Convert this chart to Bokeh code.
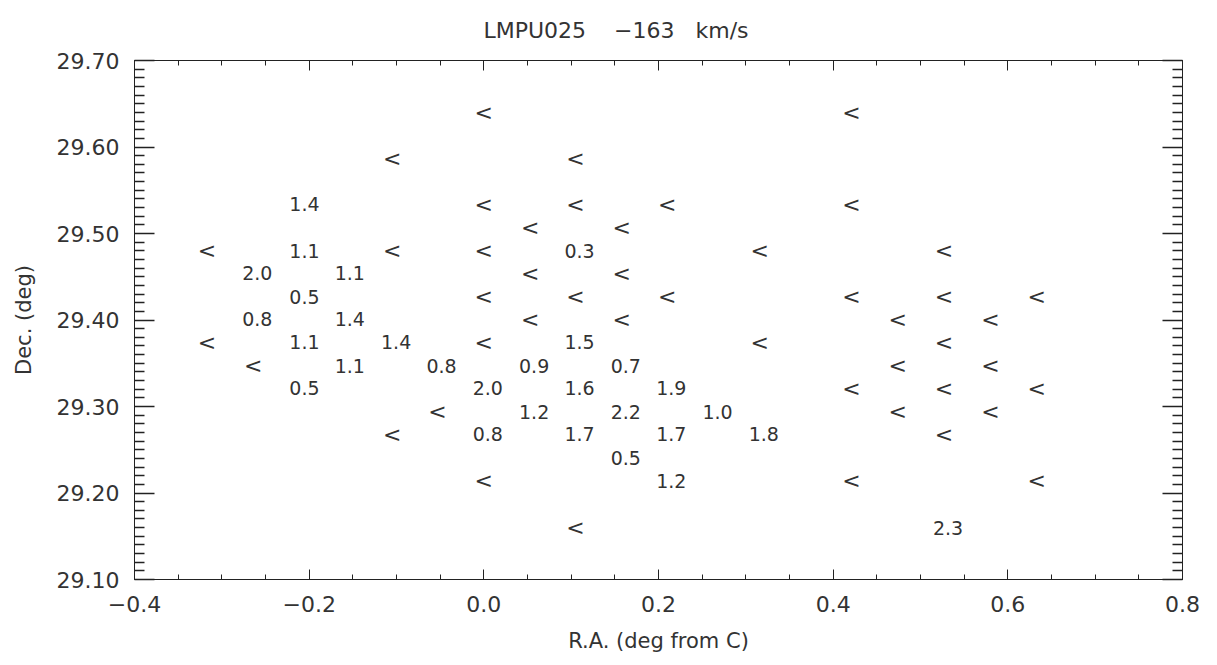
from bokeh.plotting import figure
from bokeh.models import (Range1d, FixedTicker, LinearAxis,
                          CustomJSTickFormatter, ColumnDataSource, Title)
from bokeh.core.properties import value
from bokeh.embed import file_html
from bokeh.resources import INLINE

# ---------------- data ----------------
title_text = "LMPU025\u00a0\u00a0\u00a0\u00a0\u2212163\u00a0\u00a0\u00a0km/s"
x_label = "R.A. (deg from C)"
y_label = "Dec. (deg)"
x_major = [-0.4, -0.2, 0.0, 0.2, 0.4, 0.6, 0.8]
y_major = [29.10, 29.20, 29.30, 29.40, 29.50, 29.60, 29.70]

# upper limits ("<")
lim_ra = [0.000, 0.421,
          -0.105, 0.105,
          0.000, 0.105, 0.210, 0.421,
          0.053, 0.158,
          -0.317, -0.105, 0.000, 0.316, 0.527,
          0.053, 0.158,
          0.000, 0.105, 0.210, 0.421, 0.527, 0.633,
          0.053, 0.158, 0.474, 0.580,
          -0.317, 0.000, 0.316, 0.527,
          -0.264, 0.474, 0.580,
          0.421, 0.527, 0.633,
          -0.053, 0.474, 0.580,
          -0.105, 0.527,
          0.000, 0.421, 0.633,
          0.105]
lim_dec = [29.640, 29.640,
           29.587, 29.587,
           29.534, 29.534, 29.534, 29.534,
           29.507, 29.507,
           29.480, 29.480, 29.480, 29.480, 29.480,
           29.454, 29.454,
           29.427, 29.427, 29.427, 29.427, 29.427, 29.427,
           29.401, 29.401, 29.401, 29.401,
           29.374, 29.374, 29.374, 29.374,
           29.347, 29.347, 29.347,
           29.321, 29.321, 29.321,
           29.294, 29.294, 29.294,
           29.268, 29.268,
           29.214, 29.214, 29.214,
           29.160]

# measured values
val_ra = [-0.210,
          -0.210, 0.105,
          -0.264, -0.158,
          -0.210,
          -0.264, -0.158,
          -0.210, -0.105, 0.105,
          -0.158, -0.053, 0.053, 0.158,
          -0.210, 0.000, 0.105, 0.210,
          0.053, 0.158, 0.263,
          0.000, 0.105, 0.210, 0.316,
          0.158,
          0.210,
          0.527]
val_dec = [29.534,
           29.480, 29.480,
           29.454, 29.454,
           29.427,
           29.401, 29.401,
           29.374, 29.374, 29.374,
           29.347, 29.347, 29.347, 29.347,
           29.321, 29.321, 29.321, 29.321,
           29.294, 29.294, 29.294,
           29.268, 29.268, 29.268, 29.268,
           29.241,
           29.214,
           29.160]
val_text = ["1.4",
            "1.1", "0.3",
            "2.0", "1.1",
            "0.5",
            "0.8", "1.4",
            "1.1", "1.4", "1.5",
            "1.1", "0.8", "0.9", "0.7",
            "0.5", "2.0", "1.6", "1.9",
            "1.2", "2.2", "1.0",
            "0.8", "1.7", "1.7", "1.8",
            "0.5",
            "1.2",
            "2.3"]

# ---------------- plot ----------------
FONT = "DejaVu Sans"
INK = "#222222"
TXT = "#333333"

p = figure(width=1217, height=665, output_backend="svg", toolbar_location=None,
           x_range=Range1d(-0.4, 0.8), y_range=Range1d(29.10, 29.70),
           min_border_left=134, min_border_right=35, min_border_top=60,
           min_border_bottom=86, background_fill_color="white",
           border_fill_color="white", outline_line_color=INK)
p.grid.visible = False

x_minor = [round(-0.4 + 0.05 * i, 3) for i in range(25)]
y_minor = [round(29.10 + 0.01 * i, 3) for i in range(1, 60) if i % 10 != 0]
xt = FixedTicker(ticks=x_major, minor_ticks=x_minor)
yt = FixedTicker(ticks=y_major, minor_ticks=y_minor)

xfmt = CustomJSTickFormatter(code="return (tick < -1e-9 ? '\\u2212' : '') + Math.abs(tick).toFixed(1);")
yfmt = CustomJSTickFormatter(code="return tick.toFixed(2);")
blank = CustomJSTickFormatter(code="return '';")


def style(ax, maj, mnr, lw):
    ax.axis_line_color = INK
    ax.major_tick_line_color = INK
    ax.minor_tick_line_color = INK
    ax.major_tick_line_width = lw
    ax.minor_tick_line_width = lw
    ax.major_tick_in = maj
    ax.major_tick_out = 0
    ax.minor_tick_in = mnr
    ax.minor_tick_out = 0
    ax.major_label_text_font = FONT
    ax.major_label_text_font_size = "22px"
    ax.major_label_text_color = TXT
    ax.axis_label_text_font = FONT
    ax.axis_label_text_font_size = "21px"
    ax.axis_label_text_font_style = "normal"
    ax.axis_label_text_color = TXT


xa = p.xaxis[0]
xa.ticker = xt
xa.formatter = xfmt
xa.axis_label = x_label
style(xa, 10, 5, 1)
xa.major_label_standoff = 16
xa.axis_label_standoff = 14

ya = p.yaxis[0]
ya.ticker = yt
ya.formatter = yfmt
ya.axis_label = y_label
style(ya, 20, 10, 1.6)
ya.major_label_standoff = 15
ya.axis_label_standoff = 18

top = LinearAxis(ticker=xt, formatter=blank)
style(top, 10, 5, 1)
top.major_label_standoff = 0
top.major_label_text_font_size = "0px"
p.add_layout(top, "above")

right = LinearAxis(ticker=yt, formatter=blank)
style(right, 20, 10, 1.6)
right.major_label_standoff = 0
right.major_label_text_font_size = "0px"
p.add_layout(right, "right")

t = Title(text=title_text, align="left", offset=349, text_font=FONT,
          text_font_size="22px", text_font_style="normal", text_color=TXT,
          standoff=31, vertical_align="top")
p.add_layout(t, "above")

lim_src = ColumnDataSource(dict(x=lim_ra, y=lim_dec, t=["<"] * len(lim_ra)))
val_src = ColumnDataSource(dict(x=val_ra, y=val_dec, t=val_text))

p.text(x="x", y="y", text="t", source=lim_src, text_font=value(FONT),
       text_font_size="22px", text_align="center", text_baseline="middle",
       text_color=TXT)
p.text(x="x", y="y", text="t", source=val_src, text_font=value(FONT),
       text_font_size="19px", text_align="center", text_baseline="middle",
       text_color=TXT, x_offset=4)

open("out.html", "w").write(file_html(p, INLINE))
